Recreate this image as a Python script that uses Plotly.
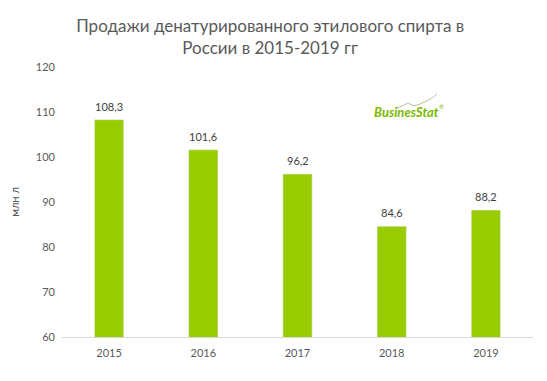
import plotly.graph_objects as go

years = ["2015", "2016", "2017", "2018", "2019"]
values = [108.3, 101.6, 96.2, 84.6, 88.2]
labels = ["108,3", "101,6", "96,2", "84,6", "88,2"]
y_ticks = [60, 70, 80, 90, 100, 110, 120]

font_family = "Lato, 'Open Sans', sans-serif"

L, R, T, B = 62, 14, 67, 44
W, H = 547, 381
pw, ph = W - L - R, H - T - B


def px(xp, yp):
    return (xp - L) / pw, (H - B - yp) / ph


fig = go.Figure()
fig.add_trace(go.Bar(
    x=years, y=values,
    marker=dict(color="#99CC00"), width=0.31, hoverinfo="x+y",
))

# value labels placed on the category axis by category index
annotations = [
    dict(x=i, y=v, text=t, xref="x", yref="y", showarrow=False,
         yanchor="bottom", yshift=5,
         font=dict(size=11, color="#404040", family=font_family))
    for i, (v, t) in enumerate(zip(values, labels))
]

lx, ly = px(406, 112)
annotations.append(dict(
    text="<b><i>BusinesStat</i></b>", x=lx, y=ly,
    xref="paper", yref="paper", xanchor="center", yanchor="middle",
    showarrow=False, font=dict(size=13, color="#7AB800", family=font_family),
))
rx, ry = px(441, 106)
annotations.append(dict(
    text="®", x=rx, y=ry, xref="paper", yref="paper", showarrow=False,
    xanchor="center", yanchor="middle",
    font=dict(size=6, color="#7AB800", family=font_family),
))

swoosh_pts = [(396, 108), (402, 106), (408, 103), (414, 106), (420, 104),
              (427, 101), (432, 98), (437, 94)]
path = ""
for i, (a, b) in enumerate(swoosh_pts):
    xx, yy = px(a, b)
    path += ("M" if i == 0 else "L") + f"{xx:.4f},{yy:.4f} "

fig.update_layout(
    width=W, height=H,
    margin=dict(l=L, r=R, t=T, b=B),
    paper_bgcolor="white", plot_bgcolor="white",
    showlegend=False,
    font=dict(family=font_family, color="#595959"),
    title=dict(
        text="Продажи денатурированного этилового спирта в<br>России в 2015-2019 гг",
        x=0.494, xanchor="center", y=0.916, yanchor="top",
        font=dict(size=17, color="#595959", family=font_family),
    ),
    xaxis=dict(
        type="category", categoryorder="array", categoryarray=years,
        showline=True, linecolor="#D9D9D9", linewidth=1,
        ticks="", tickfont=dict(size=11, color="#595959"),
        ticklabelstandoff=6, showgrid=False,
    ),
    yaxis=dict(
        range=[60, 120], tickvals=y_ticks, showgrid=False,
        showline=False, zeroline=False, ticks="",
        tickfont=dict(size=11, color="#595959"), ticklabelstandoff=6,
        title=dict(text="млн л", font=dict(size=11, color="#595959"), standoff=14),
    ),
    annotations=annotations,
    shapes=[dict(type="path", path=path.strip(), xref="paper", yref="paper",
                 line=dict(color="#B5C89A", width=1))],
)

fig.write_html("out.html", config={"displayModeBar": False},
               post_script="document.body.style.margin='0';")
